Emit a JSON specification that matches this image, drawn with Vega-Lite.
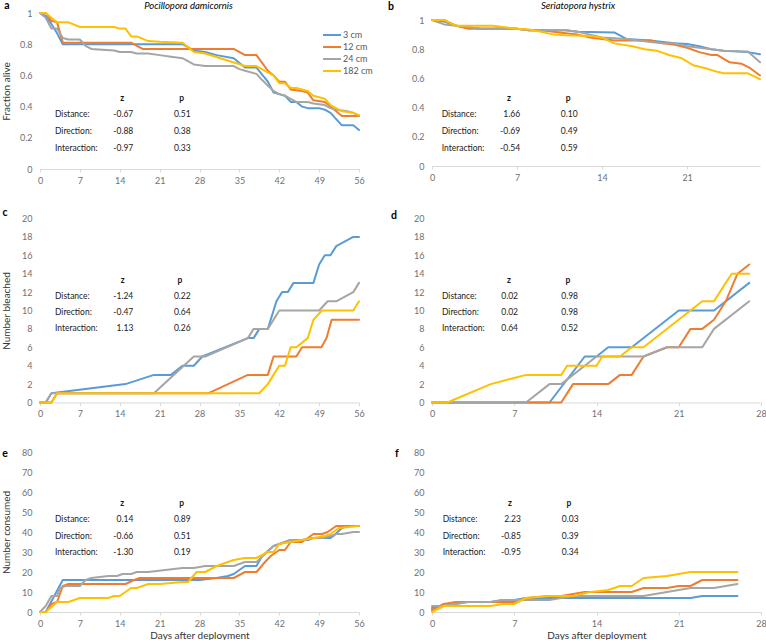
{
 "$schema": "https://vega.github.io/schema/vega-lite/v6.json",
 "padding": {"left": 1, "top": 0, "right": 0, "bottom": 0},
 "config": {
  "view": {"stroke": null},
  "font": "Lato",
  "locale": {"number": {"decimal": ".", "thousands": ",", "grouping": [3], "currency": ["$", ""], "minus": "-"}},
  "axis": {"labelFont": "Lato", "labelFontSize": 9, "labelColor": "#707070", "grid": false, "titleFont": "Lato", "titleFontSize": 10, "titleFontWeight": "normal", "titleColor": "#333333", "labelOverlap": false, "labelFlush": false, "labelBound": false, "tickCount": 30, "format": "~g"},
  "axisY": {"domain": false, "ticks": false, "labelPadding": 8, "titleX": -29},
  "axisX": {"domainColor": "#D9D9D9", "tickColor": "#D9D9D9", "tickSize": 3, "labelPadding": 4, "titlePadding": 2},
  "title": {"font": "Lato", "fontSize": 9.5, "fontStyle": "italic", "fontWeight": "normal", "color": "#000000", "offset": 2.5, "frame": "group"},
  "text": {"font": "Lato", "fontSize": 8.5, "color": "#1a1a1a", "baseline": "middle"},
  "line": {"strokeWidth": 2, "strokeJoin": "round", "strokeCap": "round"}
 },
 "datasets": {
  "stats": [
   {"panel": "a", "r": 1, "stat": "Distance", "z": -0.67, "p": 0.51},
   {"panel": "a", "r": 2, "stat": "Direction", "z": -0.88, "p": 0.38},
   {"panel": "a", "r": 3, "stat": "Interaction", "z": -0.97, "p": 0.33},
   {"panel": "b", "r": 1, "stat": "Distance", "z": 1.66, "p": 0.10},
   {"panel": "b", "r": 2, "stat": "Direction", "z": -0.69, "p": 0.49},
   {"panel": "b", "r": 3, "stat": "Interaction", "z": -0.54, "p": 0.59},
   {"panel": "c", "r": 1, "stat": "Distance", "z": -1.24, "p": 0.22},
   {"panel": "c", "r": 2, "stat": "Direction", "z": -0.47, "p": 0.64},
   {"panel": "c", "r": 3, "stat": "Interaction", "z": 1.13, "p": 0.26},
   {"panel": "d", "r": 1, "stat": "Distance", "z": 0.02, "p": 0.98},
   {"panel": "d", "r": 2, "stat": "Direction", "z": 0.02, "p": 0.98},
   {"panel": "d", "r": 3, "stat": "Interaction", "z": 0.64, "p": 0.52},
   {"panel": "e", "r": 1, "stat": "Distance", "z": 0.14, "p": 0.89},
   {"panel": "e", "r": 2, "stat": "Direction", "z": -0.66, "p": 0.51},
   {"panel": "e", "r": 3, "stat": "Interaction", "z": -1.30, "p": 0.19},
   {"panel": "f", "r": 1, "stat": "Distance", "z": 2.23, "p": 0.03},
   {"panel": "f", "r": 2, "stat": "Direction", "z": -0.85, "p": 0.39},
   {"panel": "f", "r": 3, "stat": "Interaction", "z": -0.95, "p": 0.34}
  ],
  "a": [
   {"d":0,"s":"3 cm","v":1},{"d":1,"s":"3 cm","v":0.98},{"d":2,"s":"3 cm","v":0.93},{"d":3,"s":"3 cm","v":0.87},{"d":4,"s":"3 cm","v":0.8},{"d":25,"s":"3 cm","v":0.8},{"d":27,"s":"3 cm","v":0.76},{"d":29,"s":"3 cm","v":0.75},{"d":31,"s":"3 cm","v":0.73},{"d":34,"s":"3 cm","v":0.71},{"d":36,"s":"3 cm","v":0.65},{"d":38,"s":"3 cm","v":0.65},{"d":40,"s":"3 cm","v":0.56},{"d":41,"s":"3 cm","v":0.49},{"d":42,"s":"3 cm","v":0.48},{"d":43,"s":"3 cm","v":0.47},{"d":44,"s":"3 cm","v":0.43},{"d":45,"s":"3 cm","v":0.43},{"d":46,"s":"3 cm","v":0.4},{"d":47,"s":"3 cm","v":0.39},{"d":49,"s":"3 cm","v":0.39},{"d":50,"s":"3 cm","v":0.38},{"d":51,"s":"3 cm","v":0.36},{"d":53,"s":"3 cm","v":0.28},{"d":55,"s":"3 cm","v":0.28},{"d":56,"s":"3 cm","v":0.25},
   {"d":0,"s":"12 cm","v":1},{"d":1,"s":"12 cm","v":1},{"d":2,"s":"12 cm","v":0.95},{"d":3,"s":"12 cm","v":0.94},{"d":4,"s":"12 cm","v":0.81},{"d":16,"s":"12 cm","v":0.81},{"d":18,"s":"12 cm","v":0.77},{"d":34,"s":"12 cm","v":0.77},{"d":36,"s":"12 cm","v":0.73},{"d":38,"s":"12 cm","v":0.73},{"d":40,"s":"12 cm","v":0.63},{"d":41,"s":"12 cm","v":0.6},{"d":42,"s":"12 cm","v":0.56},{"d":43,"s":"12 cm","v":0.56},{"d":44,"s":"12 cm","v":0.51},{"d":46,"s":"12 cm","v":0.5},{"d":47,"s":"12 cm","v":0.49},{"d":48,"s":"12 cm","v":0.44},{"d":50,"s":"12 cm","v":0.43},{"d":51,"s":"12 cm","v":0.4},{"d":52,"s":"12 cm","v":0.37},{"d":53,"s":"12 cm","v":0.34},{"d":56,"s":"12 cm","v":0.34},
   {"d":0,"s":"24 cm","v":1},{"d":1,"s":"24 cm","v":0.97},{"d":2,"s":"24 cm","v":0.9},{"d":3,"s":"24 cm","v":0.9},{"d":4,"s":"24 cm","v":0.84},{"d":5,"s":"24 cm","v":0.83},{"d":7,"s":"24 cm","v":0.83},{"d":8,"s":"24 cm","v":0.79},{"d":9,"s":"24 cm","v":0.77},{"d":11,"s":"24 cm","v":0.765},{"d":13,"s":"24 cm","v":0.76},{"d":14,"s":"24 cm","v":0.75},{"d":16,"s":"24 cm","v":0.75},{"d":17,"s":"24 cm","v":0.74},{"d":19,"s":"24 cm","v":0.74},{"d":21,"s":"24 cm","v":0.73},{"d":23,"s":"24 cm","v":0.72},{"d":25,"s":"24 cm","v":0.71},{"d":27,"s":"24 cm","v":0.67},{"d":29,"s":"24 cm","v":0.66},{"d":34,"s":"24 cm","v":0.66},{"d":35,"s":"24 cm","v":0.64},{"d":36,"s":"24 cm","v":0.63},{"d":38,"s":"24 cm","v":0.61},{"d":39,"s":"24 cm","v":0.57},{"d":41,"s":"24 cm","v":0.5},{"d":42,"s":"24 cm","v":0.48},{"d":43,"s":"24 cm","v":0.47},{"d":44,"s":"24 cm","v":0.45},{"d":45,"s":"24 cm","v":0.43},{"d":47,"s":"24 cm","v":0.43},{"d":48,"s":"24 cm","v":0.42},{"d":50,"s":"24 cm","v":0.41},{"d":51,"s":"24 cm","v":0.39},{"d":52,"s":"24 cm","v":0.38},{"d":54,"s":"24 cm","v":0.37},{"d":55,"s":"24 cm","v":0.36},{"d":56,"s":"24 cm","v":0.34},
   {"d":0,"s":"182 cm","v":1},{"d":1,"s":"182 cm","v":1},{"d":2,"s":"182 cm","v":0.97},{"d":3,"s":"182 cm","v":0.94},{"d":5,"s":"182 cm","v":0.94},{"d":7,"s":"182 cm","v":0.91},{"d":13,"s":"182 cm","v":0.91},{"d":14,"s":"182 cm","v":0.9},{"d":15,"s":"182 cm","v":0.9},{"d":16,"s":"182 cm","v":0.85},{"d":17,"s":"182 cm","v":0.85},{"d":19,"s":"182 cm","v":0.82},{"d":21,"s":"182 cm","v":0.815},{"d":25,"s":"182 cm","v":0.81},{"d":27,"s":"182 cm","v":0.75},{"d":29,"s":"182 cm","v":0.74},{"d":36,"s":"182 cm","v":0.66},{"d":38,"s":"182 cm","v":0.66},{"d":40,"s":"182 cm","v":0.62},{"d":41,"s":"182 cm","v":0.6},{"d":42,"s":"182 cm","v":0.55},{"d":43,"s":"182 cm","v":0.55},{"d":44,"s":"182 cm","v":0.52},{"d":45,"s":"182 cm","v":0.52},{"d":46,"s":"182 cm","v":0.51},{"d":47,"s":"182 cm","v":0.5},{"d":48,"s":"182 cm","v":0.47},{"d":50,"s":"182 cm","v":0.45},{"d":51,"s":"182 cm","v":0.41},{"d":53,"s":"182 cm","v":0.37},{"d":55,"s":"182 cm","v":0.36},{"d":56,"s":"182 cm","v":0.345}
  ],
  "b": [
   {"d":0,"s":"3 cm","v":1},{"d":1,"s":"3 cm","v":0.99},{"d":2,"s":"3 cm","v":0.96},{"d":3,"s":"3 cm","v":0.95},{"d":4,"s":"3 cm","v":0.94},{"d":7,"s":"3 cm","v":0.94},{"d":8,"s":"3 cm","v":0.93},{"d":11,"s":"3 cm","v":0.93},{"d":12,"s":"3 cm","v":0.92},{"d":15,"s":"3 cm","v":0.915},{"d":16,"s":"3 cm","v":0.87},{"d":18,"s":"3 cm","v":0.86},{"d":19,"s":"3 cm","v":0.85},{"d":20,"s":"3 cm","v":0.84},{"d":21,"s":"3 cm","v":0.835},{"d":22,"s":"3 cm","v":0.82},{"d":23,"s":"3 cm","v":0.8},{"d":24,"s":"3 cm","v":0.79},{"d":26,"s":"3 cm","v":0.78},{"d":27,"s":"3 cm","v":0.765},
   {"d":0,"s":"12 cm","v":1},{"d":1,"s":"12 cm","v":1},{"d":2,"s":"12 cm","v":0.96},{"d":3,"s":"12 cm","v":0.94},{"d":5,"s":"12 cm","v":0.94},{"d":6,"s":"12 cm","v":0.945},{"d":7,"s":"12 cm","v":0.94},{"d":8,"s":"12 cm","v":0.93},{"d":9,"s":"12 cm","v":0.93},{"d":10,"s":"12 cm","v":0.92},{"d":11,"s":"12 cm","v":0.91},{"d":12,"s":"12 cm","v":0.9},{"d":13,"s":"12 cm","v":0.88},{"d":14,"s":"12 cm","v":0.87},{"d":15,"s":"12 cm","v":0.86},{"d":18,"s":"12 cm","v":0.86},{"d":19,"s":"12 cm","v":0.84},{"d":20,"s":"12 cm","v":0.83},{"d":21,"s":"12 cm","v":0.81},{"d":22,"s":"12 cm","v":0.78},{"d":23,"s":"12 cm","v":0.76},{"d":23.5,"s":"12 cm","v":0.76},{"d":24.5,"s":"12 cm","v":0.71},{"d":25.5,"s":"12 cm","v":0.7},{"d":26.2,"s":"12 cm","v":0.67},{"d":27,"s":"12 cm","v":0.62},
   {"d":0,"s":"24 cm","v":1},{"d":1,"s":"24 cm","v":0.97},{"d":2,"s":"24 cm","v":0.96},{"d":3,"s":"24 cm","v":0.95},{"d":4,"s":"24 cm","v":0.94},{"d":7,"s":"24 cm","v":0.94},{"d":8,"s":"24 cm","v":0.93},{"d":11,"s":"24 cm","v":0.93},{"d":12,"s":"24 cm","v":0.92},{"d":13,"s":"24 cm","v":0.9},{"d":14,"s":"24 cm","v":0.88},{"d":16,"s":"24 cm","v":0.87},{"d":17,"s":"24 cm","v":0.86},{"d":18,"s":"24 cm","v":0.85},{"d":19,"s":"24 cm","v":0.84},{"d":20,"s":"24 cm","v":0.84},{"d":21,"s":"24 cm","v":0.82},{"d":22,"s":"24 cm","v":0.81},{"d":23,"s":"24 cm","v":0.8},{"d":24,"s":"24 cm","v":0.79},{"d":26,"s":"24 cm","v":0.785},{"d":27,"s":"24 cm","v":0.71},
   {"d":0,"s":"182 cm","v":1},{"d":1,"s":"182 cm","v":1},{"d":2,"s":"182 cm","v":0.96},{"d":5,"s":"182 cm","v":0.96},{"d":6,"s":"182 cm","v":0.95},{"d":7,"s":"182 cm","v":0.94},{"d":8,"s":"182 cm","v":0.935},{"d":9,"s":"182 cm","v":0.92},{"d":10,"s":"182 cm","v":0.9},{"d":11,"s":"182 cm","v":0.895},{"d":13,"s":"182 cm","v":0.89},{"d":14,"s":"182 cm","v":0.88},{"d":15,"s":"182 cm","v":0.84},{"d":16.5,"s":"182 cm","v":0.82},{"d":17.5,"s":"182 cm","v":0.8},{"d":18.5,"s":"182 cm","v":0.79},{"d":19.5,"s":"182 cm","v":0.76},{"d":20.5,"s":"182 cm","v":0.74},{"d":21.5,"s":"182 cm","v":0.69},{"d":22.5,"s":"182 cm","v":0.67},{"d":23.5,"s":"182 cm","v":0.645},{"d":24,"s":"182 cm","v":0.635},{"d":26,"s":"182 cm","v":0.635},{"d":27,"s":"182 cm","v":0.595}
  ],
  "c": [
   {"d":0,"s":"3 cm","v":0},{"d":1,"s":"3 cm","v":0},{"d":2,"s":"3 cm","v":1},{"d":15,"s":"3 cm","v":2},{"d":20,"s":"3 cm","v":3},{"d":23,"s":"3 cm","v":3},{"d":25,"s":"3 cm","v":4},{"d":27,"s":"3 cm","v":4},{"d":28.5,"s":"3 cm","v":5},{"d":36.5,"s":"3 cm","v":7},{"d":37.5,"s":"3 cm","v":7},{"d":38.5,"s":"3 cm","v":8},{"d":40,"s":"3 cm","v":8},{"d":41,"s":"3 cm","v":10},{"d":41.5,"s":"3 cm","v":11},{"d":42.5,"s":"3 cm","v":12},{"d":43.5,"s":"3 cm","v":12},{"d":44.5,"s":"3 cm","v":13},{"d":48,"s":"3 cm","v":13},{"d":49,"s":"3 cm","v":15},{"d":50,"s":"3 cm","v":16},{"d":51,"s":"3 cm","v":16},{"d":52,"s":"3 cm","v":17},{"d":55,"s":"3 cm","v":18},{"d":56,"s":"3 cm","v":18},
   {"d":0,"s":"12 cm","v":0},{"d":2,"s":"12 cm","v":0},{"d":3,"s":"12 cm","v":1},{"d":29.5,"s":"12 cm","v":1},{"d":36.5,"s":"12 cm","v":3},{"d":40,"s":"12 cm","v":3},{"d":41,"s":"12 cm","v":5},{"d":45,"s":"12 cm","v":5},{"d":46,"s":"12 cm","v":6},{"d":49.4,"s":"12 cm","v":6},{"d":50.3,"s":"12 cm","v":7},{"d":51.2,"s":"12 cm","v":9},{"d":56,"s":"12 cm","v":9},
   {"d":0,"s":"24 cm","v":0},{"d":1,"s":"24 cm","v":0},{"d":2,"s":"24 cm","v":1},{"d":20,"s":"24 cm","v":1},{"d":27,"s":"24 cm","v":5},{"d":29,"s":"24 cm","v":5},{"d":36.5,"s":"24 cm","v":7},{"d":37.5,"s":"24 cm","v":8},{"d":40,"s":"24 cm","v":8},{"d":42,"s":"24 cm","v":10},{"d":49,"s":"24 cm","v":10},{"d":50.5,"s":"24 cm","v":11},{"d":52,"s":"24 cm","v":11},{"d":55,"s":"24 cm","v":12},{"d":56,"s":"24 cm","v":13},
   {"d":0,"s":"182 cm","v":0},{"d":2,"s":"182 cm","v":0},{"d":3,"s":"182 cm","v":1},{"d":38.5,"s":"182 cm","v":1},{"d":40,"s":"182 cm","v":2},{"d":41,"s":"182 cm","v":3},{"d":42,"s":"182 cm","v":4},{"d":43,"s":"182 cm","v":4},{"d":44,"s":"182 cm","v":6},{"d":45,"s":"182 cm","v":6},{"d":47,"s":"182 cm","v":7},{"d":48,"s":"182 cm","v":9},{"d":49.5,"s":"182 cm","v":10},{"d":55,"s":"182 cm","v":10},{"d":56,"s":"182 cm","v":11}
  ],
  "d": [
   {"d":0,"s":"3 cm","v":0},{"d":10,"s":"3 cm","v":0},{"d":13,"s":"3 cm","v":5},{"d":14,"s":"3 cm","v":5},{"d":15,"s":"3 cm","v":6},{"d":17,"s":"3 cm","v":6},{"d":21,"s":"3 cm","v":10},{"d":24,"s":"3 cm","v":10},{"d":27,"s":"3 cm","v":13},
   {"d":0,"s":"12 cm","v":0},{"d":11,"s":"12 cm","v":0},{"d":12,"s":"12 cm","v":2},{"d":15,"s":"12 cm","v":2},{"d":16,"s":"12 cm","v":3},{"d":17,"s":"12 cm","v":3},{"d":18,"s":"12 cm","v":5},{"d":20,"s":"12 cm","v":6},{"d":21,"s":"12 cm","v":6},{"d":22,"s":"12 cm","v":8},{"d":23,"s":"12 cm","v":8},{"d":24,"s":"12 cm","v":9},{"d":25,"s":"12 cm","v":11},{"d":26,"s":"12 cm","v":14},{"d":27,"s":"12 cm","v":15},
   {"d":0,"s":"24 cm","v":0},{"d":8,"s":"24 cm","v":0},{"d":10,"s":"24 cm","v":2},{"d":11,"s":"24 cm","v":2},{"d":14,"s":"24 cm","v":5},{"d":18,"s":"24 cm","v":5},{"d":20,"s":"24 cm","v":6},{"d":23,"s":"24 cm","v":6},{"d":24,"s":"24 cm","v":8},{"d":27,"s":"24 cm","v":11},
   {"d":0,"s":"182 cm","v":0},{"d":1.3,"s":"182 cm","v":0},{"d":5,"s":"182 cm","v":2},{"d":8,"s":"182 cm","v":3},{"d":11,"s":"182 cm","v":3},{"d":11.5,"s":"182 cm","v":4},{"d":14,"s":"182 cm","v":4},{"d":14.5,"s":"182 cm","v":5},{"d":16,"s":"182 cm","v":5},{"d":17,"s":"182 cm","v":6},{"d":18,"s":"182 cm","v":6},{"d":23,"s":"182 cm","v":11},{"d":24,"s":"182 cm","v":11},{"d":24.5,"s":"182 cm","v":12},{"d":25.5,"s":"182 cm","v":14},{"d":27,"s":"182 cm","v":14}
  ],
  "e": [
   {"d":0,"s":"3 cm","v":0},{"d":1,"s":"3 cm","v":0},{"d":4,"s":"3 cm","v":16},{"d":28,"s":"3 cm","v":16},{"d":31,"s":"3 cm","v":17},{"d":33,"s":"3 cm","v":18},{"d":34,"s":"3 cm","v":19},{"d":36,"s":"3 cm","v":23},{"d":38,"s":"3 cm","v":23},{"d":39,"s":"3 cm","v":28},{"d":41,"s":"3 cm","v":33},{"d":42,"s":"3 cm","v":34},{"d":44,"s":"3 cm","v":36},{"d":47,"s":"3 cm","v":36},{"d":48,"s":"3 cm","v":37},{"d":51,"s":"3 cm","v":37},{"d":51.5,"s":"3 cm","v":38},{"d":53,"s":"3 cm","v":42},{"d":54,"s":"3 cm","v":43},{"d":56,"s":"3 cm","v":43},
   {"d":0,"s":"12 cm","v":0},{"d":1,"s":"12 cm","v":0},{"d":2,"s":"12 cm","v":4},{"d":3,"s":"12 cm","v":5},{"d":4,"s":"12 cm","v":13},{"d":5,"s":"12 cm","v":14},{"d":15,"s":"12 cm","v":14},{"d":16.5,"s":"12 cm","v":16},{"d":17.5,"s":"12 cm","v":17},{"d":34,"s":"12 cm","v":17},{"d":36,"s":"12 cm","v":20},{"d":38,"s":"12 cm","v":20},{"d":39.5,"s":"12 cm","v":25},{"d":40.5,"s":"12 cm","v":28},{"d":42,"s":"12 cm","v":31},{"d":43,"s":"12 cm","v":31},{"d":44,"s":"12 cm","v":35},{"d":46,"s":"12 cm","v":35},{"d":47,"s":"12 cm","v":37},{"d":48,"s":"12 cm","v":39},{"d":49.5,"s":"12 cm","v":39},{"d":50.5,"s":"12 cm","v":40},{"d":52,"s":"12 cm","v":43},{"d":56,"s":"12 cm","v":43},
   {"d":0,"s":"24 cm","v":0},{"d":1,"s":"24 cm","v":3},{"d":2,"s":"24 cm","v":8},{"d":3,"s":"24 cm","v":8},{"d":3.5,"s":"24 cm","v":12},{"d":4.5,"s":"24 cm","v":13},{"d":7,"s":"24 cm","v":13},{"d":8,"s":"24 cm","v":16},{"d":9,"s":"24 cm","v":17},{"d":12,"s":"24 cm","v":18},{"d":13.5,"s":"24 cm","v":18},{"d":14.5,"s":"24 cm","v":19},{"d":16,"s":"24 cm","v":19},{"d":17,"s":"24 cm","v":20},{"d":19,"s":"24 cm","v":20},{"d":25,"s":"24 cm","v":22},{"d":27,"s":"24 cm","v":22},{"d":29,"s":"24 cm","v":23},{"d":34,"s":"24 cm","v":23},{"d":36,"s":"24 cm","v":25},{"d":38,"s":"24 cm","v":25},{"d":39.5,"s":"24 cm","v":29},{"d":41,"s":"24 cm","v":33},{"d":42,"s":"24 cm","v":34},{"d":44,"s":"24 cm","v":36},{"d":46,"s":"24 cm","v":36},{"d":47.5,"s":"24 cm","v":37},{"d":49.5,"s":"24 cm","v":37},{"d":51,"s":"24 cm","v":38},{"d":52,"s":"24 cm","v":39},{"d":53,"s":"24 cm","v":39},{"d":55,"s":"24 cm","v":40},{"d":56,"s":"24 cm","v":40},
   {"d":0,"s":"182 cm","v":0},{"d":1,"s":"182 cm","v":0},{"d":3,"s":"182 cm","v":5},{"d":5,"s":"182 cm","v":5},{"d":7,"s":"182 cm","v":7},{"d":12,"s":"182 cm","v":7},{"d":13,"s":"182 cm","v":8},{"d":14,"s":"182 cm","v":8},{"d":16,"s":"182 cm","v":12},{"d":17,"s":"182 cm","v":12},{"d":19,"s":"182 cm","v":14},{"d":21,"s":"182 cm","v":14},{"d":25,"s":"182 cm","v":15},{"d":26,"s":"182 cm","v":15},{"d":27.5,"s":"182 cm","v":20},{"d":29,"s":"182 cm","v":20},{"d":31,"s":"182 cm","v":23},{"d":34,"s":"182 cm","v":26},{"d":36,"s":"182 cm","v":27},{"d":38,"s":"182 cm","v":27},{"d":40,"s":"182 cm","v":30},{"d":41,"s":"182 cm","v":30},{"d":42,"s":"182 cm","v":34},{"d":44,"s":"182 cm","v":35},{"d":46,"s":"182 cm","v":36},{"d":48,"s":"182 cm","v":37},{"d":50,"s":"182 cm","v":38},{"d":51,"s":"182 cm","v":39},{"d":52.5,"s":"182 cm","v":42},{"d":56,"s":"182 cm","v":43}
  ],
  "f": [
   {"d":0,"s":"3 cm","v":2},{"d":1,"s":"3 cm","v":3},{"d":2,"s":"3 cm","v":4},{"d":3,"s":"3 cm","v":5},{"d":5,"s":"3 cm","v":5},{"d":6,"s":"3 cm","v":6},{"d":7,"s":"3 cm","v":6},{"d":8,"s":"3 cm","v":7},{"d":22,"s":"3 cm","v":7},{"d":23,"s":"3 cm","v":8},{"d":26,"s":"3 cm","v":8},
   {"d":0,"s":"12 cm","v":1},{"d":1,"s":"12 cm","v":4},{"d":2,"s":"12 cm","v":5},{"d":7,"s":"12 cm","v":5},{"d":8,"s":"12 cm","v":7},{"d":10,"s":"12 cm","v":8},{"d":11,"s":"12 cm","v":8},{"d":12,"s":"12 cm","v":9},{"d":13,"s":"12 cm","v":10},{"d":17,"s":"12 cm","v":10},{"d":18,"s":"12 cm","v":12},{"d":20,"s":"12 cm","v":12},{"d":21,"s":"12 cm","v":13},{"d":22,"s":"12 cm","v":13},{"d":23,"s":"12 cm","v":16},{"d":26,"s":"12 cm","v":16},
   {"d":0,"s":"24 cm","v":3},{"d":1,"s":"24 cm","v":3},{"d":2,"s":"24 cm","v":4},{"d":3,"s":"24 cm","v":5},{"d":5,"s":"24 cm","v":5},{"d":6,"s":"24 cm","v":6},{"d":10,"s":"24 cm","v":6},{"d":11,"s":"24 cm","v":7},{"d":12,"s":"24 cm","v":8},{"d":18,"s":"24 cm","v":8},{"d":20,"s":"24 cm","v":10},{"d":22,"s":"24 cm","v":12},{"d":24,"s":"24 cm","v":12},{"d":26,"s":"24 cm","v":14},
   {"d":0,"s":"182 cm","v":0},{"d":1,"s":"182 cm","v":3},{"d":5,"s":"182 cm","v":3},{"d":6,"s":"182 cm","v":4},{"d":7,"s":"182 cm","v":4},{"d":8,"s":"182 cm","v":7},{"d":10,"s":"182 cm","v":8},{"d":12,"s":"182 cm","v":8},{"d":13.5,"s":"182 cm","v":10},{"d":15,"s":"182 cm","v":11},{"d":16,"s":"182 cm","v":13},{"d":17,"s":"182 cm","v":13},{"d":18,"s":"182 cm","v":17},{"d":20,"s":"182 cm","v":18},{"d":21,"s":"182 cm","v":19},{"d":22,"s":"182 cm","v":20},{"d":26,"s":"182 cm","v":20}
  ]
 },
 "columns": 2,
 "spacing": {"row": 49.5, "column": 73},
 "bounds": "flush",
 "align": "each",
 "resolve": {"scale": {"color": "independent"}, "legend": {"color": "independent"}},
 "concat": [
  {
   "width": 319, "height": 156,
   "title": {"text": "Pocillopora damicornis", "dx": -11, "dy": 12},
   "layer": [
    {"layer": [
     {"data": {"name": "a"}, "mark": "line",
      "encoding": {
       "x": {"field": "d", "type": "quantitative", "scale": {"domain": [0, 56], "nice": false}, "axis": {"values": [0, 7, 14, 21, 28, 35, 42, 49, 56], "tickCount": 30, "format": "d", "title": null, "labelOverlap": false}},
       "y": {"field": "v", "type": "quantitative", "scale": {"domain": [0, 1], "nice": false}, "axis": {"values": [0, 0.2, 0.4, 0.6, 0.8, 1], "tickCount": 30, "format": "~g", "title": "Fraction alive", "labelOverlap": false}},
       "color": {"field": "s", "type": "nominal", "scale": {"domain": ["3 cm", "12 cm", "24 cm", "182 cm"], "range": ["#5B9BD5", "#ED7D31", "#A5A5A5", "#FFC000"]},
        "legend": {"orient": "none", "legendX": 285, "legendY": 15, "title": null, "symbolType": "M-1.5,0L1.5,0", "symbolSize": 144, "symbolStrokeWidth": 2, "labelFont": "Lato", "labelFontSize": 9, "labelColor": "#595959", "labelOffset": 4, "rowPadding": 0, "padding": 0}}
      }},
     {"data": {"name": "stats"}, "transform": [{"filter": "datum.panel == 'a' && datum.r == 1"}],
      "mark": {"type": "text", "text": "a", "fontWeight": "bold", "fontSize": 10.5, "color": "#000000"},
      "encoding": {"x": {"datum": -5.79}, "y": {"datum": 1.045}}}
    ]},
    {"data": {"name": "stats"}, "transform": [{"filter": "datum.panel == 'a'"}, {"calculate": "datum.stat + ':'", "as": "label"}],
     "encoding": {"y": {"field": "r", "type": "quantitative", "scale": {"domain": [-5.08, 4.28], "reverse": true, "nice": false}, "axis": null}},
     "layer": [
      {"mark": {"type": "text", "align": "left"}, "encoding": {"x": {"datum": 2.63}, "text": {"field": "label", "type": "nominal"}}},
      {"mark": {"type": "text", "align": "right"}, "encoding": {"x": {"datum": 16.38}, "text": {"field": "z", "type": "quantitative", "format": ".2f"}}},
      {"mark": {"type": "text", "align": "right"}, "encoding": {"x": {"datum": 26.46}, "text": {"field": "p", "type": "quantitative", "format": ".2f"}}},
      {"transform": [{"filter": "datum.r == 1"}], "mark": {"type": "text", "text": "z", "fontWeight": "bold"}, "encoding": {"x": {"datum": 14.45}, "y": {"datum": 0}}},
      {"transform": [{"filter": "datum.r == 1"}], "mark": {"type": "text", "text": "p", "fontWeight": "bold"}, "encoding": {"x": {"datum": 24.88}, "y": {"datum": 0}}}
     ]}
   ],
   "resolve": {"scale": {"y": "independent"}}
  },
  {
   "width": 328, "height": 153,
   "title": {"text": "Seriatopora hystrix", "dx": -18, "dy": 11.2},
   "layer": [
    {"layer": [
     {"data": {"name": "b"}, "mark": "line",
      "encoding": {
       "x": {"field": "d", "type": "quantitative", "scale": {"domain": [0, 27], "nice": false}, "axis": {"values": [0, 7, 14, 21], "tickCount": 30, "format": "d", "title": null, "labelOverlap": false}},
       "y": {"field": "v", "type": "quantitative", "scale": {"domain": [0, 1.048], "nice": false}, "axis": {"values": [0, 0.2, 0.4, 0.6, 0.8, 1], "tickCount": 30, "format": "~g", "title": null, "labelOverlap": false}},
       "color": {"field": "s", "type": "nominal", "scale": {"domain": ["3 cm", "12 cm", "24 cm", "182 cm"], "range": ["#5B9BD5", "#ED7D31", "#A5A5A5", "#FFC000"]}, "legend": null}
      }},
     {"data": {"name": "stats"}, "transform": [{"filter": "datum.panel == 'b' && datum.r == 1"}],
      "mark": {"type": "text", "text": "b", "fontWeight": "bold", "fontSize": 10.5, "color": "#000000"},
      "encoding": {"x": {"datum": -3.37}, "y": {"datum": 1.09}}}
    ]},
    {"data": {"name": "stats"}, "transform": [{"filter": "datum.panel == 'b'"}, {"calculate": "datum.stat + ':'", "as": "label"}],
     "encoding": {"y": {"field": "r", "type": "quantitative", "scale": {"domain": [-5.08, 4.10], "reverse": true, "nice": false}, "axis": null}},
     "layer": [
      {"mark": {"type": "text", "align": "left"}, "encoding": {"x": {"datum": 0.8}, "text": {"field": "label", "type": "nominal"}}},
      {"mark": {"type": "text", "align": "right"}, "encoding": {"x": {"datum": 7.25}, "text": {"field": "z", "type": "quantitative", "format": ".2f"}}},
      {"mark": {"type": "text", "align": "right"}, "encoding": {"x": {"datum": 11.99}, "text": {"field": "p", "type": "quantitative", "format": ".2f"}}},
      {"transform": [{"filter": "datum.r == 1"}], "mark": {"type": "text", "text": "z", "fontWeight": "bold"}, "encoding": {"x": {"datum": 6.34}, "y": {"datum": 0}}},
      {"transform": [{"filter": "datum.r == 1"}], "mark": {"type": "text", "text": "p", "fontWeight": "bold"}, "encoding": {"x": {"datum": 11.2}, "y": {"datum": 0}}}
     ]}
   ],
   "resolve": {"scale": {"y": "independent"}}
  },
  {
   "width": 319, "height": 184,
   "layer": [
    {"layer": [
     {"data": {"name": "c"}, "mark": "line",
      "encoding": {
       "x": {"field": "d", "type": "quantitative", "scale": {"domain": [0, 56], "nice": false}, "axis": {"values": [0, 7, 14, 21, 28, 35, 42, 49, 56], "tickCount": 30, "format": "d", "title": null, "labelOverlap": false}},
       "y": {"field": "v", "type": "quantitative", "scale": {"domain": [0, 20], "nice": false}, "axis": {"values": [0, 2, 4, 6, 8, 10, 12, 14, 16, 18, 20], "tickCount": 30, "format": "d", "title": "Number bleached", "labelOverlap": false}},
       "color": {"field": "s", "type": "nominal", "scale": {"domain": ["3 cm", "12 cm", "24 cm", "182 cm"], "range": ["#5B9BD5", "#ED7D31", "#A5A5A5", "#FFC000"]}, "legend": null}
      }},
     {"data": {"name": "stats"}, "transform": [{"filter": "datum.panel == 'c' && datum.r == 1"}],
      "mark": {"type": "text", "text": "c", "fontWeight": "bold", "fontSize": 10.5, "color": "#000000"},
      "encoding": {"x": {"datum": -6.14}, "y": {"datum": 20.55}}}
    ]},
    {"data": {"name": "stats"}, "transform": [{"filter": "datum.panel == 'c'"}, {"calculate": "datum.stat + ':'", "as": "label"}],
     "encoding": {"y": {"field": "r", "type": "quantitative", "scale": {"domain": [-3.82, 7.61], "reverse": true, "nice": false}, "axis": null}},
     "layer": [
      {"mark": {"type": "text", "align": "left"}, "encoding": {"x": {"datum": 2.63}, "text": {"field": "label", "type": "nominal"}}},
      {"mark": {"type": "text", "align": "right"}, "encoding": {"x": {"datum": 16.38}, "text": {"field": "z", "type": "quantitative", "format": ".2f"}}},
      {"mark": {"type": "text", "align": "right"}, "encoding": {"x": {"datum": 26.46}, "text": {"field": "p", "type": "quantitative", "format": ".2f"}}},
      {"transform": [{"filter": "datum.r == 1"}], "mark": {"type": "text", "text": "z", "fontWeight": "bold"}, "encoding": {"x": {"datum": 14.52}, "y": {"datum": 0}}},
      {"transform": [{"filter": "datum.r == 1"}], "mark": {"type": "text", "text": "p", "fontWeight": "bold"}, "encoding": {"x": {"datum": 24.58}, "y": {"datum": 0}}}
     ]}
   ],
   "resolve": {"scale": {"y": "independent"}}
  },
  {
   "width": 329, "height": 184,
   "layer": [
    {"layer": [
     {"data": {"name": "d"}, "mark": "line",
      "encoding": {
       "x": {"field": "d", "type": "quantitative", "scale": {"domain": [0, 28], "nice": false}, "axis": {"values": [0, 7, 14, 21, 28], "tickCount": 30, "format": "d", "title": null, "labelOverlap": false}},
       "y": {"field": "v", "type": "quantitative", "scale": {"domain": [0, 20], "nice": false}, "axis": {"values": [0, 2, 4, 6, 8, 10, 12, 14, 16, 18, 20], "tickCount": 30, "format": "d", "title": null, "labelOverlap": false}},
       "color": {"field": "s", "type": "nominal", "scale": {"domain": ["3 cm", "12 cm", "24 cm", "182 cm"], "range": ["#5B9BD5", "#ED7D31", "#A5A5A5", "#FFC000"]}, "legend": null}
      }},
     {"data": {"name": "stats"}, "transform": [{"filter": "datum.panel == 'd' && datum.r == 1"}],
      "mark": {"type": "text", "text": "d", "fontWeight": "bold", "fontSize": 10.5, "color": "#000000"},
      "encoding": {"x": {"datum": -3.23}, "y": {"datum": 20.3}}}
    ]},
    {"data": {"name": "stats"}, "transform": [{"filter": "datum.panel == 'd'"}, {"calculate": "datum.stat + ':'", "as": "label"}],
     "encoding": {"y": {"field": "r", "type": "quantitative", "scale": {"domain": [-3.82, 7.61], "reverse": true, "nice": false}, "axis": null}},
     "layer": [
      {"mark": {"type": "text", "align": "left"}, "encoding": {"x": {"datum": 0.85}, "text": {"field": "label", "type": "nominal"}}},
      {"mark": {"type": "text", "align": "right"}, "encoding": {"x": {"datum": 7.32}, "text": {"field": "z", "type": "quantitative", "format": ".2f"}}},
      {"mark": {"type": "text", "align": "right"}, "encoding": {"x": {"datum": 12.43}, "text": {"field": "p", "type": "quantitative", "format": ".2f"}}},
      {"transform": [{"filter": "datum.r == 1"}], "mark": {"type": "text", "text": "z", "fontWeight": "bold"}, "encoding": {"x": {"datum": 6.55}, "y": {"datum": 0}}},
      {"transform": [{"filter": "datum.r == 1"}], "mark": {"type": "text", "text": "p", "fontWeight": "bold"}, "encoding": {"x": {"datum": 11.57}, "y": {"datum": 0}}}
     ]}
   ],
   "resolve": {"scale": {"y": "independent"}}
  },
  {
   "width": 319, "height": 160,
   "layer": [
    {"layer": [
     {"data": {"name": "e"}, "mark": "line",
      "encoding": {
       "x": {"field": "d", "type": "quantitative", "scale": {"domain": [0, 56], "nice": false}, "axis": {"values": [0, 7, 14, 21, 28, 35, 42, 49, 56], "tickCount": 30, "format": "d", "title": "Days after deployment", "labelOverlap": false}},
       "y": {"field": "v", "type": "quantitative", "scale": {"domain": [0, 80], "nice": false}, "axis": {"values": [0, 10, 20, 30, 40, 50, 60, 70, 80], "tickCount": 30, "format": "d", "title": "Number consumed", "labelOverlap": false}},
       "color": {"field": "s", "type": "nominal", "scale": {"domain": ["3 cm", "12 cm", "24 cm", "182 cm"], "range": ["#5B9BD5", "#ED7D31", "#A5A5A5", "#FFC000"]}, "legend": null}
      }},
     {"data": {"name": "stats"}, "transform": [{"filter": "datum.panel == 'e' && datum.r == 1"}],
      "mark": {"type": "text", "text": "e", "fontWeight": "bold", "fontSize": 10.5, "color": "#000000"},
      "encoding": {"x": {"datum": -6.14}, "y": {"datum": 79}}}
    ]},
    {"data": {"name": "stats"}, "transform": [{"filter": "datum.panel == 'e'"}, {"calculate": "datum.stat + ':'", "as": "label"}],
     "encoding": {"y": {"field": "r", "type": "quantitative", "scale": {"domain": [-3.09, 6.65], "reverse": true, "nice": false}, "axis": null}},
     "layer": [
      {"mark": {"type": "text", "align": "left"}, "encoding": {"x": {"datum": 2.63}, "text": {"field": "label", "type": "nominal"}}},
      {"mark": {"type": "text", "align": "right"}, "encoding": {"x": {"datum": 16.38}, "text": {"field": "z", "type": "quantitative", "format": ".2f"}}},
      {"mark": {"type": "text", "align": "right"}, "encoding": {"x": {"datum": 26.46}, "text": {"field": "p", "type": "quantitative", "format": ".2f"}}},
      {"transform": [{"filter": "datum.r == 1"}], "mark": {"type": "text", "text": "z", "fontWeight": "bold"}, "encoding": {"x": {"datum": 14.45}, "y": {"datum": 0}}},
      {"transform": [{"filter": "datum.r == 1"}], "mark": {"type": "text", "text": "p", "fontWeight": "bold"}, "encoding": {"x": {"datum": 24.88}, "y": {"datum": 0}}}
     ]}
   ],
   "resolve": {"scale": {"y": "independent"}}
  },
  {
   "width": 329, "height": 160,
   "layer": [
    {"layer": [
     {"data": {"name": "f"}, "mark": "line",
      "encoding": {
       "x": {"field": "d", "type": "quantitative", "scale": {"domain": [0, 28], "nice": false}, "axis": {"values": [0, 7, 14, 21, 28], "tickCount": 30, "format": "d", "title": "Days after deployment", "labelOverlap": false}},
       "y": {"field": "v", "type": "quantitative", "scale": {"domain": [0, 80], "nice": false}, "axis": {"values": [0, 10, 20, 30, 40, 50, 60, 70, 80], "tickCount": 30, "format": "d", "title": null, "labelOverlap": false}},
       "color": {"field": "s", "type": "nominal", "scale": {"domain": ["3 cm", "12 cm", "24 cm", "182 cm"], "range": ["#5B9BD5", "#ED7D31", "#A5A5A5", "#FFC000"]}, "legend": null}
      }},
     {"data": {"name": "stats"}, "transform": [{"filter": "datum.panel == 'f' && datum.r == 1"}],
      "mark": {"type": "text", "text": "f", "fontWeight": "bold", "fontSize": 10.5, "color": "#000000"},
      "encoding": {"x": {"datum": -2.98}, "y": {"datum": 79}}}
    ]},
    {"data": {"name": "stats"}, "transform": [{"filter": "datum.panel == 'f'"}, {"calculate": "datum.stat + ':'", "as": "label"}],
     "encoding": {"y": {"field": "r", "type": "quantitative", "scale": {"domain": [-3.09, 6.65], "reverse": true, "nice": false}, "axis": null}},
     "layer": [
      {"mark": {"type": "text", "align": "left"}, "encoding": {"x": {"datum": 0.91}, "text": {"field": "label", "type": "nominal"}}},
      {"mark": {"type": "text", "align": "right"}, "encoding": {"x": {"datum": 7.57}, "text": {"field": "z", "type": "quantitative", "format": ".2f"}}},
      {"mark": {"type": "text", "align": "right"}, "encoding": {"x": {"datum": 12.48}, "text": {"field": "p", "type": "quantitative", "format": ".2f"}}},
      {"transform": [{"filter": "datum.r == 1"}], "mark": {"type": "text", "text": "z", "fontWeight": "bold"}, "encoding": {"x": {"datum": 6.64}, "y": {"datum": 0}}},
      {"transform": [{"filter": "datum.r == 1"}], "mark": {"type": "text", "text": "p", "fontWeight": "bold"}, "encoding": {"x": {"datum": 11.66}, "y": {"datum": 0}}}
     ]}
   ],
   "resolve": {"scale": {"y": "independent"}}
  }
 ]
}
